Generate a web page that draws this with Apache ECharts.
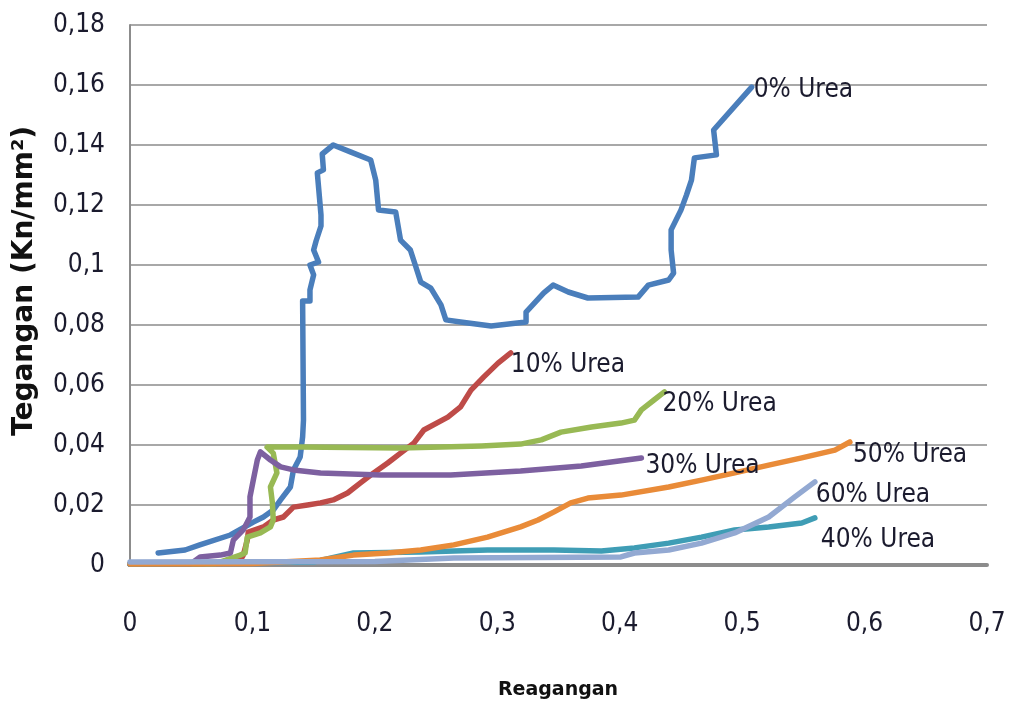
<!DOCTYPE html>
<html>
<head>
<meta charset="utf-8">
<script src="https://cdn.jsdelivr.net/npm/echarts@6/dist/echarts.min.js"></script>
<style>
html,body{margin:0;padding:0;background:#fff;}
#c{width:1010px;height:709px;}
</style>
</head>
<body>
<div id="c"></div>
<script>
// Tick labels
const xTicks = [0, 0.1, 0.2, 0.3, 0.4, 0.5, 0.6, 0.7];
const yTicks = [0, 0.02, 0.04, 0.06, 0.08, 0.1, 0.12, 0.14, 0.16, 0.18];
const seriesNames = ['0% Urea', '10% Urea', '20% Urea', '30% Urea', '40% Urea', '50% Urea', '60% Urea'];

// [strain, stress] pairs
const urea0 = [
  [0.023,0.004],[0.045,0.005],[0.057,0.0067],[0.082,0.010],[0.1007,0.0143],[0.109,0.016],
  [0.117,0.0183],[0.123,0.0217],[0.131,0.026],[0.1335,0.0317],[0.139,0.036],[0.141,0.0427],
  [0.1417,0.0483],[0.141,0.088],[0.147,0.088],[0.147,0.0917],[0.150,0.0967],[0.147,0.100],
  [0.154,0.101],[0.150,0.105],[0.152,0.108],[0.156,0.113],[0.156,0.1167],[0.153,0.1307],
  [0.158,0.1317],[0.157,0.137],[0.166,0.140],[0.180,0.1377],[0.1966,0.135],[0.2007,0.1283],
  [0.203,0.1183],[0.217,0.1177],[0.221,0.1083],[0.229,0.105],[0.233,0.100],[0.2375,0.0943],
  [0.2457,0.0923],[0.254,0.0867],[0.258,0.0817],[0.270,0.081],[0.295,0.0797],[0.3235,0.081],
  [0.3235,0.0843],[0.338,0.0907],[0.3456,0.0933],[0.358,0.091],[0.374,0.089],[0.415,0.0893],
  [0.4234,0.0933],[0.440,0.095],[0.444,0.0973],[0.442,0.105],[0.442,0.1117],[0.450,0.1183],
  [0.4545,0.1233],[0.4586,0.1283],[0.461,0.1357],[0.479,0.1367],[0.4767,0.145],[0.5078,0.1593]
];
const urea10 = [
  [0,0.0003],[0.06,0.0005],[0.09,0.0015],[0.0925,0.0033],[0.0958,0.0083],[0.0966,0.011],
  [0.109,0.0127],[0.117,0.015],[0.1253,0.016],[0.1335,0.0193],[0.145,0.020],[0.1556,0.0207],
  [0.166,0.0217],[0.1777,0.024],[0.188,0.0273],[0.199,0.0307],[0.2105,0.034],[0.221,0.0373],
  [0.232,0.0407],[0.240,0.045],[0.2596,0.0493],[0.270,0.0527],[0.2785,0.0583],[0.289,0.0627],
  [0.3006,0.0673],[0.311,0.0707]
];
const urea20 = [
  [0,0.0003],[0.07,0.0005],[0.090,0.0033],[0.094,0.004],[0.0958,0.0093],[0.1065,0.0107],
  [0.1147,0.0127],[0.117,0.015],[0.1163,0.0207],[0.1147,0.026],[0.120,0.0307],[0.117,0.0373],
  [0.112,0.0393],[0.139,0.0393],[0.221,0.039],[0.287,0.0397],[0.319,0.0403],[0.336,0.0417],
  [0.352,0.0443],[0.377,0.046],[0.401,0.0473],[0.412,0.0483],[0.4177,0.0517],[0.428,0.055],
  [0.4365,0.0577]
];
const urea30 = [
  [0,0.0003],[0.05,0.0005],[0.0573,0.0027],[0.0737,0.0033],[0.082,0.004],[0.0844,0.0083],
  [0.0925,0.0117],[0.098,0.016],[0.098,0.0227],[0.1007,0.0283],[0.104,0.035],[0.1065,0.0377],
  [0.1147,0.035],[0.123,0.0327],[0.1335,0.0317],[0.1556,0.0307],[0.2048,0.030],[0.262,0.030],
  [0.319,0.0313],[0.3686,0.033],[0.4177,0.0357]
];
const urea40 = [
  [0,0.0003],[0.15,0.001],[0.1826,0.004],[0.2375,0.0043],[0.292,0.005],[0.3464,0.005],
  [0.385,0.0047],[0.412,0.0057],[0.44,0.0073],[0.4668,0.0093],[0.4939,0.0117],[0.5217,0.0127],
  [0.5487,0.014],[0.5594,0.0157]
];
const urea50 = [
  [0,0.0003],[0.1,0.0005],[0.1556,0.0017],[0.1826,0.0033],[0.2105,0.004],[0.2375,0.005],
  [0.2645,0.0067],[0.292,0.0093],[0.319,0.0127],[0.3333,0.015],[0.3464,0.0177],[0.360,0.0207],
  [0.374,0.0223],[0.401,0.0233],[0.44,0.026],[0.4668,0.0283],[0.4939,0.0307],[0.5217,0.0333],
  [0.5487,0.0357],[0.5758,0.0383],[0.588,0.041]
];
const urea60 = [
  [0,0.001],[0.2,0.0012],[0.2645,0.0023],[0.401,0.0027],[0.412,0.004],[0.44,0.005],
  [0.4668,0.0073],[0.4939,0.0107],[0.5217,0.016],[0.543,0.0227],[0.5594,0.0277]
];

const seriesData = [urea0, urea10, urea20, urea30, urea40, urea50, urea60];
const colors = ['#4A7EBB', '#BE4B48', '#98B954', '#7D60A0', '#3F9DB5', '#E98B38', '#93A9D2'];
const labelOffsets = [[-2, 3], [-4, 12], [-6, 12], [0, 8], [2, 22], [-1, 13], [-3, 13]];

const fmt = v => String(+(+v).toFixed(2)).replace('.', ',');

const chart = echarts.init(document.getElementById('c'), null, {renderer: 'canvas'});
chart.setOption({
  animation: false,
  backgroundColor: '#ffffff',
  grid: {left: 130, right: 23, top: 25, bottom: 144, containLabel: false},
  xAxis: {
    type: 'value', min: 0, max: 0.7, interval: 0.1,
    axisLine: {show: true, lineStyle: {color: '#8C8C8C', width: 4}},
    axisTick: {show: false},
    splitLine: {show: false},
    axisLabel: {
      margin: 46, color: '#1b1b2e', fontSize: 26, fontFamily: 'DejaVu Sans Condensed',
      formatter: v => fmt(v)
    }
  },
  yAxis: {
    type: 'value', min: 0, max: 0.18, interval: 0.02,
    axisLine: {show: true, lineStyle: {color: '#8C8C8C', width: 2}},
    axisTick: {show: false},
    splitLine: {show: true, lineStyle: {color: '#A8A8A8', width: 2}},
    axisLabel: {
      margin: 25, color: '#1b1b2e', fontSize: 26, fontFamily: 'DejaVu Sans Condensed',
      formatter: v => fmt(v)
    }
  },
  graphic: [
    {type: 'text', x: 25, y: 281, rotation: Math.PI / 2,
     style: {text: 'Tegangan (Kn/mm²)', textAlign: 'center', textVerticalAlign: 'middle',
             font: 'bold 28px "DejaVu Sans"', fill: '#111'}},
    {type: 'text', x: 558, y: 690,
     style: {text: 'Reagangan', textAlign: 'center', textVerticalAlign: 'middle',
             font: 'bold 19px "DejaVu Sans"', fill: '#111'}}
  ],
  series: seriesData.map((d, i) => ({
    name: seriesNames[i],
    type: 'line',
    data: d,
    showSymbol: false,
    symbol: 'none',
    smooth: false,
    lineStyle: {color: colors[i], width: 5.5, cap: 'round', join: 'round'},
    itemStyle: {color: colors[i]},
    endLabel: {
      show: true,
      formatter: seriesNames[i],
      distance: 4,
      offset: labelOffsets[i],
      color: '#1b1b2e',
      fontSize: 26,
      fontFamily: 'DejaVu Sans Condensed'
    }
  }))
});
</script>
</body>
</html>
